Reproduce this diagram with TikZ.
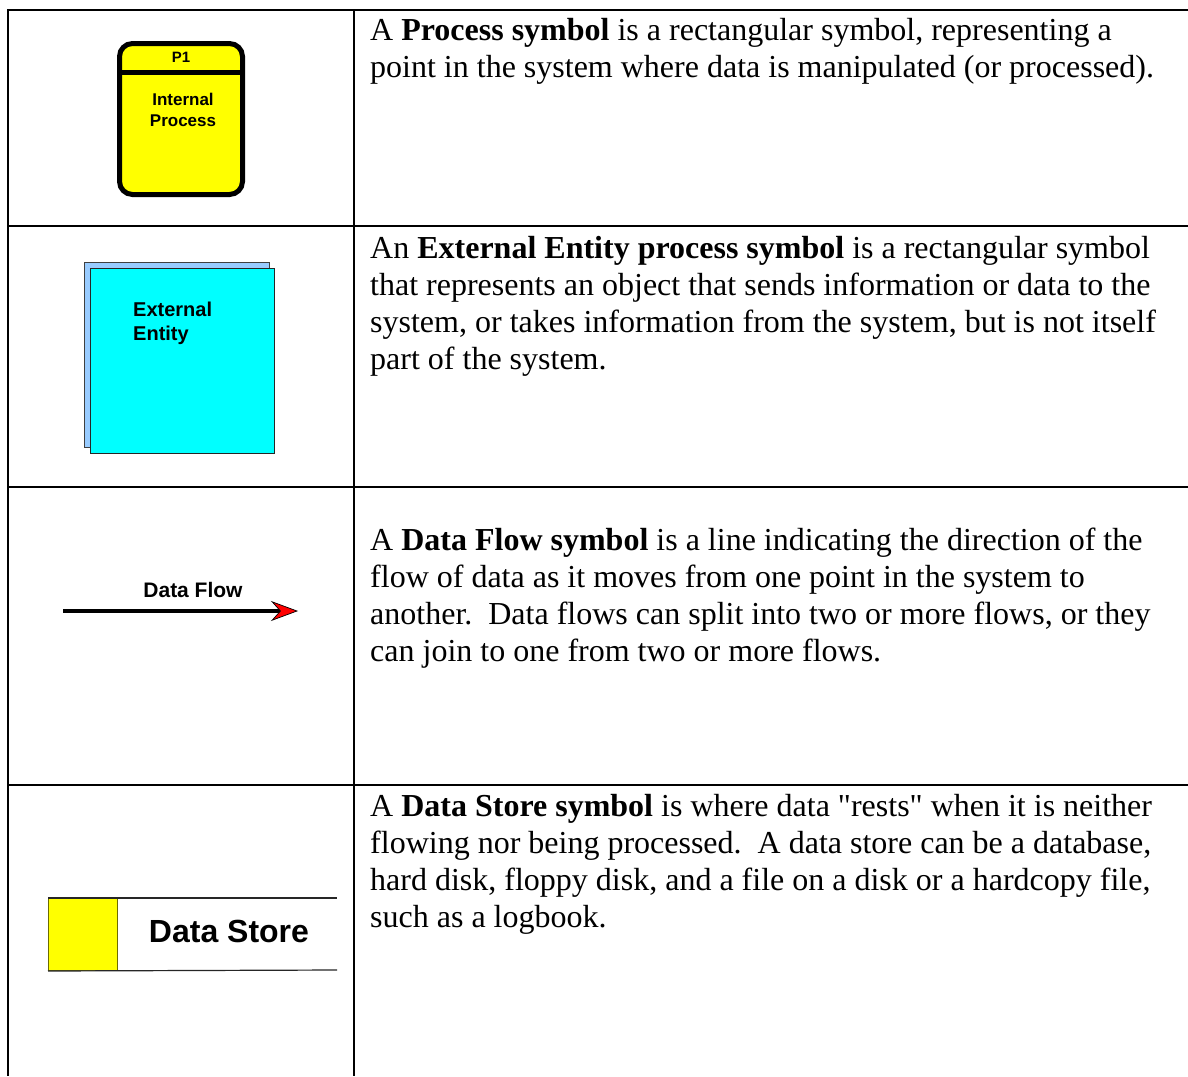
\documentclass[tikz,border=0pt]{standalone}
\usepackage{fontspec}
\setmainfont{Liberation Serif}
\newfontfamily\arialfont{Liberation Sans}
\usetikzlibrary{arrows.meta}
\definecolor{procyellow}{HTML}{FFFF00}
\definecolor{entcyan}{HTML}{00FFFF}
\definecolor{entback}{HTML}{99CCFF}
\definecolor{storeedge}{HTML}{6B6B00}
\newcommand{\straightquote}{{\XeTeXglyph\XeTeXcharglyph"22\relax}}
\tikzset{
  tablerule/.style={line width=2.5pt, black},
  desc/.style={anchor=north west, inner sep=0pt, align=left,
    font=\fontsize{32}{37}\selectfont},
  procbox/.style={draw=black, line width=5pt, fill=procyellow, rounded corners=13pt,
    minimum width=123pt, minimum height=151pt, inner sep=0pt},
  entbox/.style={anchor=north west, inner sep=0pt, line width=0.8pt},
  symtext/.style={font=\arialfont\bfseries},
}
\begin{document}
\begin{tikzpicture}[x=1pt,y=-1pt]
\useasboundingbox (0,0) rectangle (1188,1076);
\fill[white] (0,0) rectangle (1188,1076);

% table grid
\coordinate (tl) at (8,10);
\coordinate (tr) at (1188,10);
\coordinate (bl) at (8,1076);
\coordinate (ct) at (354,10);
\coordinate (cb) at (354,1076);
\coordinate (r1l) at (8,226);   \coordinate (r1r) at (1188,226);
\coordinate (r2l) at (8,487);   \coordinate (r2r) at (1188,487);
\coordinate (r3l) at (8,785);   \coordinate (r3r) at (1188,785);
\draw[tablerule] (tr) -- (tl) -- (bl);
\draw[tablerule] (ct) -- (cb);
\draw[tablerule] (r1l) -- (r1r);
\draw[tablerule] (r2l) -- (r2r);
\draw[tablerule] (r3l) -- (r3r);

% process symbol
\node[procbox] (proc) at (181,119) {};
\coordinate (hdl) at (119.5,72.5);
\coordinate (hdr) at (242.5,72.5);
\draw[line width=5pt] (hdl) -- (hdr);
\node[symtext, font=\arialfont\bfseries\fontsize{15}{18}\selectfont] (p1) at (181,57) {P1};
\node[symtext, align=center, font=\arialfont\bfseries\fontsize{17}{21}\selectfont] (iproc) at (183,110) {Internal\\Process};

% external entity
\node[entbox, draw=black!75, fill=entback, minimum width=185pt, minimum height=185pt] (eeback) at (84,262) {};
\node[entbox, draw=black!85, fill=entcyan, minimum width=184pt, minimum height=185pt] (eefront) at (90,268) {};
\node[anchor=north west, inner sep=0pt, align=left, font=\arialfont\bfseries\fontsize{20}{24}\selectfont] (eetext) at (133,302) {External\\Entity};

% data flow
\coordinate (dfs) at (63,611);
\coordinate (dfe) at (298,611);
\draw[line width=4pt, -{Stealth[length=27pt,width=20pt,inset=9pt,fill=red,line width=0.7pt]}] (dfs) -- (dfe);
\node[font=\arialfont\bfseries\fontsize{21}{25}\selectfont] (dflabel) at (193,590) {Data Flow};

% data store
\node[anchor=north west, inner sep=0pt, draw=storeedge, line width=1pt, fill=procyellow, minimum width=69pt, minimum height=72pt] (dsbox) at (48,898) {};
\coordinate (dstr) at (337,898);
\coordinate (dsbr) at (337,970);
\draw[line width=1.2pt, black!85] (dsbox.north west) -- (dstr);
\draw[line width=1.2pt, black!85] (dsbox.south west) -- (dsbr);
\node[font=\arialfont\bfseries\fontsize{32}{38}\selectfont] (dslabel) at (229,931) {Data Store};

% descriptions
\node[desc] (d1) at (370,14) {\strut A \textbf{Process symbol} is a rectangular symbol, representing a\\point in the system where data is manipulated (or processed).};
\node[desc] (d2) at (370,232) {\strut An \textbf{External Entity process symbol} is a rectangular symbol\\that represents an object that sends information or data to the\\system, or takes information from the system, but is not itself\\part of the system.};
\node[desc] (d3) at (370,524) {\strut A \textbf{Data Flow symbol} is a line indicating the direction of the\\flow of data as it moves from one point in the system to\\another.\ \ Data flows can split into two or more flows, or they\\can join to one from two or more flows.};
\node[desc] (d4) at (370,790) {\strut A \textbf{Data Store symbol} is where data \straightquote rests\straightquote{} when it is neither\\flowing nor being processed.\ \ A data store can be a database,\\hard disk, floppy disk, and a file on a disk or a hardcopy file,\\such as a logbook.};
\end{tikzpicture}
\end{document}
